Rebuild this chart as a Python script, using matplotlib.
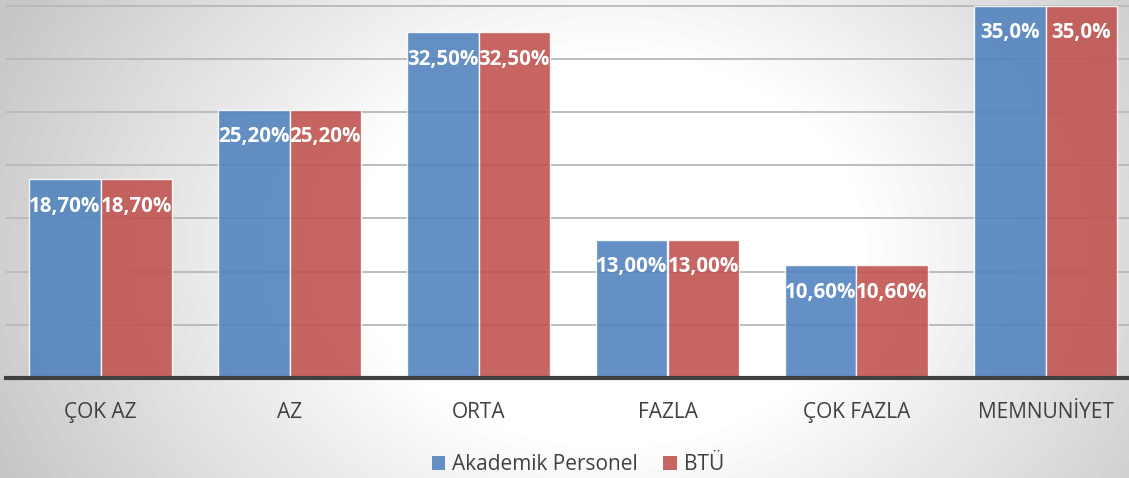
import numpy as np
import matplotlib.pyplot as plt
from matplotlib.patches import Patch

categories = ['ÇOK AZ', 'AZ', 'ORTA', 'FAZLA', 'ÇOK FAZLA', 'MEMNUNİYET']
akademik = [18.7, 25.2, 32.5, 13.0, 10.6, 35.0]
btu = [18.7, 25.2, 32.5, 13.0, 10.6, 35.0]
akademik_labels = ['18,70%', '25,20%', '32,50%', '13,00%', '10,60%', '35,0%']
btu_labels = ['18,70%', '25,20%', '32,50%', '13,00%', '10,60%', '35,0%']
series_names = ['Akademik Personel', 'BTÜ']

W, H = 1129, 478
fig = plt.figure(figsize=(W / 100, H / 100), dpi=100)

# radial grey-to-white background
bg = fig.add_axes([0, 0, 1, 1], zorder=-10)
yy, xx = np.mgrid[0:H, 0:W]
r = np.hypot(xx - 610, (yy - 250) * 1.3)
shade = 1 - 0.22 * np.clip((r - 250) / 420, 0, 1)
bg.imshow(shade, cmap='gray', vmin=0, vmax=1, aspect='auto', extent=[0, 1, 0, 1])
bg.axis('off')

left, bottom = 6 / W, (H - 378) / H
ax = fig.add_axes([left, bottom, 1 - left, 1 - bottom])
ax.set_facecolor('none')

x = np.arange(len(categories))
w = 0.376
b1 = ax.bar(x - w / 2, akademik, w, color='#4f81bd', alpha=0.88,
            edgecolor=(1, 1, 1, 0.6), linewidth=1, zorder=2)
b2 = ax.bar(x + w / 2, btu, w, color='#c0504d', alpha=0.88,
            edgecolor=(1, 1, 1, 0.6), linewidth=1, zorder=2)

for bars, labels in ((b1, akademik_labels), (b2, btu_labels)):
    for rect, lab in zip(bars, labels):
        ax.annotate(lab, (rect.get_x() + rect.get_width() / 2, rect.get_height()),
                    xytext=(0, -19.5), textcoords='offset points',
                    ha='center', va='center', color='white', fontsize=14.8,
                    fontweight='bold', family='Open Sans', zorder=3)

ax.set_xlim(-0.5, -0.5 + (W - 6) / 189)
ax.set_ylim(0, 378 / 10.64)
ax.set_yticks([5, 10, 15, 20, 25, 30, 35])
ax.yaxis.grid(True, color='#b8b8b8', linewidth=1.3, zorder=0)
ax.set_axisbelow(True)
ax.tick_params(axis='y', left=False, labelleft=False)
ax.set_xticks(x)
ax.set_xticklabels(categories, fontsize=15, color='#404040', family='Open Sans')
ax.tick_params(axis='x', length=0, pad=17)
for s in ['top', 'right', 'left']:
    ax.spines[s].set_visible(False)
ax.spines['bottom'].set_color('#404040')
ax.spines['bottom'].set_linewidth(3)
ax.spines['bottom'].set_zorder(4)

handles = [Patch(facecolor='#4f81bd', alpha=0.88), Patch(facecolor='#c0504d', alpha=0.88)]
leg = fig.legend(handles, series_names, loc='center', bbox_to_anchor=(578 / W, 1 - 465 / H),
                 ncol=2, frameon=False, handlelength=0.65, handleheight=0.65,
                 handletextpad=0.35, columnspacing=1.2,
                 prop={'family': 'Open Sans', 'size': 15})
for t in leg.get_texts():
    t.set_color('#404040')

fig.savefig('out.png', dpi=100)
